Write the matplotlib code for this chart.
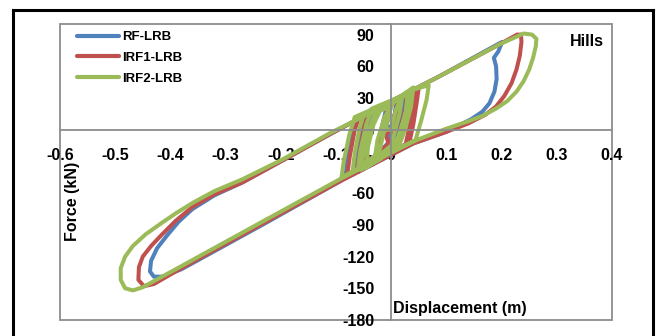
import numpy as np
import matplotlib
matplotlib.use('Agg')
import matplotlib.pyplot as plt
from matplotlib.patches import Rectangle
from matplotlib.lines import Line2D

# displacement (m), force (kN) points
rf_pts = [(0, 0), (0.01, 22), (0.025, 32), (0.02, 15), (0.008, -10), (-0.005, -22),
          (-0.06, -40), (-0.055, -20), (-0.048, 5), (-0.04, 15), (0.0, 26), (0.02, 32),
          (0.015, 12), (0.01, -5), (0.005, -17), (-0.04, -33), (-0.083, -45),
          (-0.079, -25), (-0.07, 0), (-0.063, 12), (0.0, 27), (0.089, 51), (0.197, 82),
          (0.201, 83), (0.194, 74), (0.186, 68), (0.19, 60), (0.191, 48), (0.187, 36),
          (0.178, 25), (0.165, 17), (0.145, 10), (0.1, -2), (0.04, -13), (-0.09, -48),
          (-0.23, -89), (-0.38, -132), (-0.415, -139), (-0.43, -139), (-0.437, -134),
          (-0.435, -124), (-0.424, -112), (-0.406, -100), (-0.385, -87), (-0.36, -75),
          (-0.32, -62), (-0.27, -50), (-0.2, -30), (-0.11, -4), (-0.06, 10), (-0.02, 20),
          (-0.008, 22), (-0.018, 0), (-0.03, -27), (-0.055, -33), (-0.05, -15),
          (-0.042, 8), (-0.03, 18), (0.01, 28), (0.005, 10), (-0.005, -12), (-0.035, -30),
          (-0.065, -40), (-0.06, -20), (-0.052, 2), (-0.045, 14), (0.0, 25), (-0.008, 5),
          (0.0, 0)]

irf1_pts = [(0, 0), (0.01, 22), (0.02, 30), (0.03, 33), (0.025, 18), (0.012, -8),
            (0.0, -20), (-0.04, -33), (-0.045, -20), (-0.035, 5), (-0.025, 17), (0.0, 26),
            (0.05, 40), (0.046, 25), (0.04, 5), (0.033, -12), (0.0, -22), (-0.05, -36),
            (-0.08, -44), (-0.075, -25), (-0.066, 0), (-0.058, 12), (0.0, 27), (0.089, 51),
            (0.197, 81), (0.228, 90), (0.235, 90), (0.236, 83), (0.233, 70), (0.227, 57),
            (0.218, 44), (0.205, 32), (0.19, 22), (0.17, 14), (0.14, 6), (0.1, -2),
            (0.04, -13), (-0.09, -48), (-0.23, -88), (-0.38, -131), (-0.43, -146),
            (-0.448, -148), (-0.458, -142), (-0.457, -130), (-0.45, -120), (-0.435, -110),
            (-0.415, -99), (-0.39, -86), (-0.36, -73), (-0.32, -61), (-0.27, -50),
            (-0.2, -30), (-0.11, -4), (-0.06, 10), (-0.02, 20), (-0.005, 24), (-0.015, 0),
            (-0.028, -25), (-0.05, -33), (-0.045, -15), (-0.035, 8), (-0.02, 20),
            (0.015, 30), (0.01, 10), (0.0, -10), (-0.03, -27), (-0.062, -38), (-0.056, -18),
            (-0.048, 5), (-0.04, 15), (0.02, 31), (0.044, 38), (0.04, 20), (0.032, 0),
            (0.026, -14), (0.0, -20), (-0.01, -5), (0.0, 0)]

irf2_pts = [(0, 0), (0.008, 18), (0.018, 30), (0.035, 36), (0.03, 24), (0.018, 0),
            (0.008, -15), (-0.02, -28), (-0.055, -38), (-0.05, -22), (-0.04, 0),
            (-0.03, 15), (0.0, 27), (0.04, 38), (0.068, 42), (0.064, 28), (0.054, 8),
            (0.044, -10), (0.0, -21), (-0.05, -34), (-0.09, -45), (-0.086, -30),
            (-0.076, -5), (-0.066, 12), (0.0, 27), (0.089, 51), (0.197, 81), (0.24, 91),
            (0.255, 90), (0.263, 86), (0.262, 79), (0.257, 68), (0.25, 57), (0.24, 46),
            (0.227, 36), (0.21, 27), (0.19, 20), (0.165, 13), (0.14, 8), (0.1, 1),
            (0.04, -11), (-0.09, -46), (-0.23, -86), (-0.38, -129), (-0.45, -149),
            (-0.468, -152), (-0.482, -150), (-0.49, -142), (-0.49, -131), (-0.482, -120),
            (-0.468, -110), (-0.445, -99), (-0.418, -89), (-0.39, -79), (-0.359, -69),
            (-0.32, -58), (-0.27, -47), (-0.2, -29), (-0.11, -3), (-0.06, 10), (0.0, 26),
            (-0.01, 5), (-0.022, -22), (-0.06, -36), (-0.056, -20), (-0.045, 5),
            (-0.035, 20), (0.02, 32), (0.015, 15), (0.0, -15), (-0.03, -28), (-0.025, -10),
            (-0.012, 12), (0.005, 26), (0.03, 34), (0.026, 15), (0.012, -8), (0.0, -18),
            (-0.04, -32), (-0.07, -40), (-0.066, -22), (-0.058, 0), (-0.05, 14),
            (-0.02, 20), (0.01, 29), (0.04, 40), (0.036, 22), (0.025, 0), (0.015, -14),
            (-0.02, -26), (-0.045, -36), (-0.042, -16), (-0.032, 5), (-0.02, 18),
            (0.0, 22), (-0.01, 0), (0.0, 0)]

series_names = ['RF-LRB', 'IRF1-LRB', 'IRF2-LRB']
series_colors = ['#4F81BD', '#C0504D', '#9BBB59']
x_ticks = [-0.6, -0.5, -0.4, -0.3, -0.2, -0.1, 0, 0.1, 0.2, 0.3, 0.4]
y_ticks = [-180, -150, -120, -90, -60, -30, 0, 30, 60, 90]

plt.rcParams['font.family'] = ['Liberation Sans', 'DejaVu Sans']
plt.rcParams['font.weight'] = 'bold'
plt.rcParams['font.size'] = 11.5

W, H = 657, 336
fig = plt.figure(figsize=(W / 100, H / 100), dpi=100)
ax = fig.add_axes([60 / W, 16 / H, 552 / W, 296 / H])

for pts, name, c in zip([rf_pts, irf1_pts, irf2_pts], series_names, series_colors):
    arr = np.array(pts)
    ax.plot(arr[:, 0], arr[:, 1], color=c, lw=2.9, label=name,
            solid_joinstyle='round', solid_capstyle='round')

ax.set_xlim(-0.6, 0.4)
ax.set_ylim(-180, 100)
ax.set_xticks(x_ticks)
ax.set_yticks(y_ticks)
ax.set_xticklabels(['0' if v == 0 else f'{v:g}' for v in x_ticks])
ax.set_yticklabels([str(v) for v in y_ticks])
ax.tick_params(axis='x', length=0, pad=13, labelsize=11.5)
ax.tick_params(axis='y', length=0, pad=12, labelsize=11.5)

for s in ['top', 'right']:
    ax.spines[s].set_visible(False)
for s in ['bottom', 'left']:
    ax.spines[s].set_position('zero')
    ax.spines[s].set_color('#8c8c8c')
    ax.spines[s].set_linewidth(1.3)
ax.add_patch(Rectangle((0, 0), 1, 1, transform=ax.transAxes, fill=False,
                       ec='#8c8c8c', lw=1.3, clip_on=False, zorder=1))

leg = ax.legend(loc='upper left', bbox_to_anchor=(77 / W, 1 - 31 / H),
                bbox_transform=fig.transFigure, frameon=False, borderpad=0,
                borderaxespad=0, handlelength=3.2, handletextpad=0.25,
                labelspacing=0.65, fontsize=9.5)
for line in leg.get_lines():
    line.set_linewidth(3)

fig.text(73 / W, 1 - 201 / H, 'Force (kN)', rotation=90, ha='center', va='center')
fig.text(393 / W, 1 - 308 / H, 'Displacement (m)', ha='left', va='center')
fig.text(570 / W, 1 - 41 / H, 'Hills', ha='left', va='center')

# outer chart frame
frame = dict(color='black', lw=2.2, transform=fig.transFigure)
fig.add_artist(Line2D([13 / W, 13 / W], [0, 1 - 10 / H], **frame))
fig.add_artist(Line2D([13 / W, 653 / W], [1 - 10 / H, 1 - 10 / H], **frame))
fig.add_artist(Line2D([653 / W, 653 / W], [0, 1 - 10 / H], **frame))

fig.savefig('out.png', dpi=100)
